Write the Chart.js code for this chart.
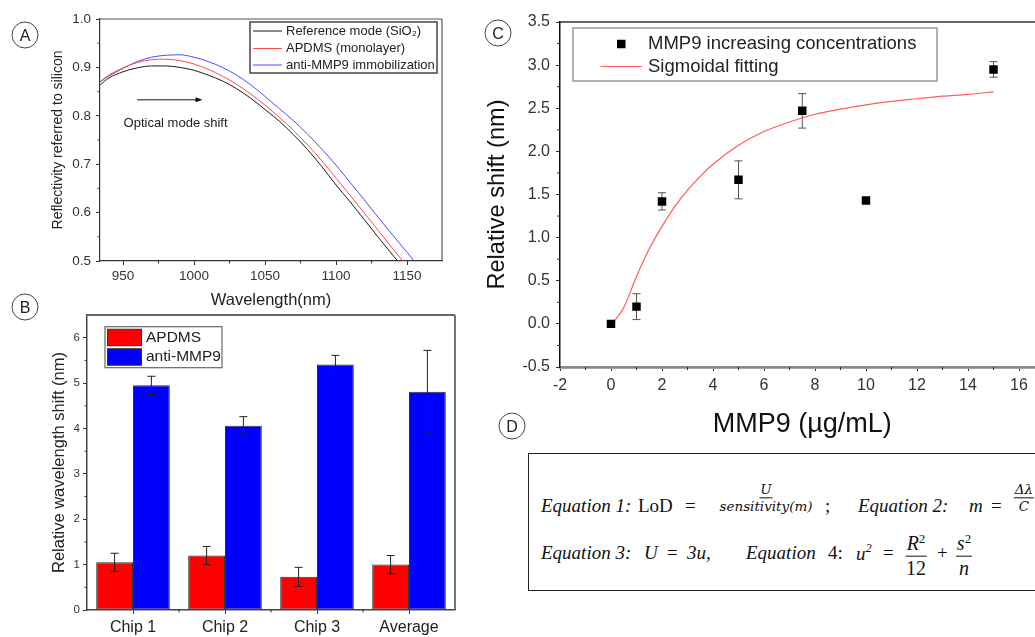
<!DOCTYPE html>
<html>
<head>
<meta charset="utf-8">
<script src="https://cdn.jsdelivr.net/npm/chart.js@4.4.1/dist/chart.umd.min.js"></script>
<style>
  html, body { margin: 0; padding: 0; background: #fff; }
  body { width: 1035px; height: 637px; overflow: hidden; position: relative; font-family: "Liberation Sans", Arial, sans-serif; color: #222; }
  canvas { position: absolute; }
  .tag { position: absolute; width: 25px; height: 25px; border: 1.2px solid #444; border-radius: 50%;
         transform: translate(-50%, -50%); display: flex; align-items: center; justify-content: center;
         font-size: 16px; color: #222; }
  #eqBox { position: absolute; left: 528px; top: 453px; width: 560px; height: 136px; border: 1.5px solid #222; }
  #eqBox .t { position: absolute; transform: translateY(-50%); white-space: nowrap;
              font-family: "Liberation Serif", serif; font-size: 19px; color: #111; }
  #eqBox .it { font-style: italic; }
  #eqBox .frac { position: absolute; transform: translate(-50%, -50%); display: flex; flex-direction: column;
                 align-items: center; font-family: "Liberation Serif", serif; color: #111; line-height: 1.05; }
  #eqBox .frac .num { border-bottom: 1px solid #111; padding: 0 1px 1px; text-align: center; }
  #eqBox .frac .den { padding-top: 1px; text-align: center; }
  #eqBox .sm { font-family: "DejaVu Serif", serif; font-style: italic; font-size: 13.5px; }
  #eqBox .lg { font-size: 20px; }
  #eqBox sup { font-size: 0.65em; }
</style>
</head>
<body>
<canvas id="chartA" width="450" height="315" style="left:0;top:0"></canvas>
<canvas id="chartB" width="470" height="337" style="left:0;top:300px"></canvas>
<canvas id="chartC" width="620" height="445" style="left:470px;top:0"></canvas>

<div class="tag" style="left:25px;top:35px">A</div>
<div class="tag" style="left:25px;top:307px">B</div>
<div class="tag" style="left:498px;top:33px">C</div>
<div class="tag" style="left:512px;top:426px">D</div>

<div id="eqBox">
  <span class="t it" style="left:12px;top:52px">Equation 1:</span>
  <span class="t" style="left:109px;top:52px">LoD</span>
  <span class="t" style="left:156px;top:52px">=</span>
  <span class="frac sm" style="left:237px;top:44px"><span class="num">U</span><span class="den">sensitivity(m)</span></span>
  <span class="t" style="left:296px;top:52px">;</span>
  <span class="t it" style="left:329px;top:52px">Equation 2:</span>
  <span class="t it" style="left:440px;top:52px">m</span>
  <span class="t" style="left:462px;top:52px">=</span>
  <span class="frac sm" style="left:495px;top:44px"><span class="num">Δλ</span><span class="den">C</span></span>

  <span class="t it" style="left:12px;top:99px">Equation 3:</span>
  <span class="t it" style="left:115px;top:99px">U</span>
  <span class="t" style="left:138px;top:99px">=</span>
  <span class="t it" style="left:158px;top:99px">3u,</span>
  <span class="t it" style="left:217px;top:99px">Equation</span>
  <span class="t" style="left:299px;top:99px">4:</span>
  <span class="t it" style="left:327px;top:99px">u<sup>2</sup></span>
  <span class="t" style="left:354px;top:99px">=</span>
  <span class="frac lg" style="left:387px;top:101px"><span class="num"><i>R</i><sup>2</sup></span><span class="den">12</span></span>
  <span class="t" style="left:408px;top:99px">+</span>
  <span class="frac lg" style="left:435px;top:101px"><span class="num"><i>s</i><sup>2</sup></span><span class="den"><i>n</i></span></span>
</div>

<script>
// A: reflectivity spectra
const wavelength = [934, 940, 950, 960, 970, 980, 990, 1000, 1010, 1020, 1030, 1040, 1050, 1060, 1070, 1080, 1090, 1100, 1110, 1120, 1130, 1140, 1150, 1160];
const refMode  = [0.864, 0.878, 0.891, 0.899, 0.903, 0.903, 0.900, 0.894, 0.884, 0.872, 0.856, 0.836, 0.813, 0.789, 0.761, 0.730, 0.695, 0.657, 0.622, 0.585, 0.548, 0.512, 0.477, 0.440];
const apdmsMono = [0.871, 0.884, 0.899, 0.910, 0.916, 0.917, 0.914, 0.907, 0.896, 0.882, 0.865, 0.845, 0.822, 0.797, 0.770, 0.740, 0.707, 0.671, 0.635, 0.599, 0.562, 0.525, 0.489, 0.452];
const antiImmob = [0.870, 0.882, 0.898, 0.912, 0.921, 0.925, 0.926, 0.921, 0.912, 0.900, 0.884, 0.864, 0.840, 0.815, 0.790, 0.762, 0.731, 0.698, 0.662, 0.626, 0.589, 0.553, 0.518, 0.482];

// B: wavelength shift per chip
const chips = ['Chip 1', 'Chip 2', 'Chip 3', 'Average'];
const apdmsShift = [1.05, 1.20, 0.73, 1.00];
const apdmsErr   = [0.20, 0.20, 0.21, 0.20];
const mmp9Shift  = [4.95, 4.06, 5.41, 4.81];
const mmp9Err    = [0.20, 0.20, 0.20, 0.91];

// C: response vs MMP9 concentration
const concentration = [0, 1, 2, 5, 7.5, 10, 15];
const relShift      = [0.00, 0.20, 1.42, 1.67, 2.47, 1.43, 2.95];
const relShiftErr   = [0.00, 0.15, 0.10, 0.22, 0.20, 0.03, 0.09];
const fitConc  = [0.05, 0.5, 1, 1.5, 2, 2.5, 3, 3.5, 4, 5, 6, 7, 8, 9, 10, 11, 12, 13, 14, 15];
const fitShift = [0.00, 0.19, 0.55, 0.87, 1.13, 1.36, 1.55, 1.71, 1.85, 2.07, 2.23, 2.34, 2.43, 2.49, 2.54, 2.58, 2.61, 2.64, 2.66, 2.69];

const FONT = '"Liberation Sans", Arial, sans-serif';
Chart.defaults.font.family = FONT;
Chart.defaults.color = '#222';

const pairs = (xs, ys) => xs.map((x, i) => ({ x: x, y: ys[i] }));

// small ticks between the labelled ones
const minorTicks = {
  id: 'minorTicks',
  afterDraw(chart, args, o) {
    const ctx = chart.ctx;
    ctx.save();
    ctx.strokeStyle = o.color || '#333';
    ctx.lineWidth = 1;
    ['x', 'y'].forEach(id => {
      const m = o[id];
      const s = chart.scales[id];
      if (!m || !s) return;
      for (let v = m.from; v <= s.max + 1e-9; v += m.step) {
        if (v < s.min - 1e-9) continue;
        const p = s.getPixelForValue(v);
        ctx.beginPath();
        if (id === 'x') {
          if (p <= s.left + 1 || p >= s.right - 1) continue;
          ctx.moveTo(p, s.top); ctx.lineTo(p, s.top + o.len);
        } else {
          if (p <= s.top + 1 || p >= s.bottom - 1) continue;
          ctx.moveTo(s.right, p); ctx.lineTo(s.right - o.len, p);
        }
        ctx.stroke();
      }
    });
    ctx.restore();
  }
};

// top / right border of the plot box
const frame = {
  id: 'frame',
  afterDraw(chart, args, o) {
    const { left, right, top, bottom } = chart.chartArea;
    const ctx = chart.ctx;
    ctx.save();
    ctx.strokeStyle = o.color;
    ctx.lineWidth = o.width;
    ctx.beginPath();
    if (o.sides.includes('top')) { ctx.moveTo(left, top); ctx.lineTo(right, top); }
    if (o.sides.includes('right')) { ctx.moveTo(right, top); ctx.lineTo(right, bottom); }
    ctx.stroke();
    ctx.restore();
  }
};

// vertical error bars from each dataset's "errors" array
function drawErrors(chart, o) {
  const ctx = chart.ctx;
  const ys = chart.scales.y;
  ctx.save();
  ctx.strokeStyle = o.color;
  ctx.lineWidth = 1;
  chart.data.datasets.forEach((ds, di) => {
    if (!ds.errors) return;
    chart.getDatasetMeta(di).data.forEach((el, i) => {
      const err = ds.errors[i];
      if (!err) return;
      const raw = ds.data[i];
      const v = typeof raw === 'object' ? raw.y : raw;
      const t = ys.getPixelForValue(v + err);
      const b = ys.getPixelForValue(v - err);
      ctx.beginPath();
      ctx.moveTo(el.x, t); ctx.lineTo(el.x, b);
      ctx.moveTo(el.x - o.cap, t); ctx.lineTo(el.x + o.cap, t);
      ctx.moveTo(el.x - o.cap, b); ctx.lineTo(el.x + o.cap, b);
      ctx.stroke();
    });
  });
  ctx.restore();
}
const errorBars = {
  id: 'errorBars',
  beforeDatasetsDraw(chart, args, o) { if (o.under) drawErrors(chart, o); },
  afterDatasetsDraw(chart, args, o) { if (!o.under) drawErrors(chart, o); }
};

// legend drawn in a framed box inside the plot
const boxLegend = {
  id: 'boxLegend',
  afterDraw(chart, args, o) {
    const ctx = chart.ctx;
    const [bx, by, bw, bh] = o.box;
    ctx.save();
    ctx.strokeStyle = o.borderColor;
    ctx.lineWidth = o.borderWidth;
    ctx.strokeRect(bx, by, bw, bh);
    ctx.font = o.fontSize + 'px ' + FONT;
    ctx.textBaseline = 'middle';
    const [x0, x1] = o.sample;
    chart.data.datasets.filter(d => d.label).forEach((ds, i) => {
      const y = o.rows[i];
      if (chart.config.type === 'bar') {
        ctx.fillStyle = ds.backgroundColor;
        ctx.fillRect(x0, y - o.swatch / 2, x1 - x0, o.swatch);
        ctx.strokeStyle = ds.borderColor;
        ctx.lineWidth = 1;
        ctx.strokeRect(x0, y - o.swatch / 2, x1 - x0, o.swatch);
      } else if (ds.showLine === false) {
        const s = o.marker;
        ctx.fillStyle = ds.backgroundColor;
        ctx.fillRect((x0 + x1) / 2 - s / 2, y - s / 2, s, s);
      } else {
        ctx.strokeStyle = ds.borderColor;
        ctx.lineWidth = ds.borderWidth || 1;
        ctx.beginPath(); ctx.moveTo(x0, y); ctx.lineTo(x1, y); ctx.stroke();
      }
      ctx.fillStyle = '#222';
      ctx.fillText(ds.label, o.textX, y);
    });
    ctx.restore();
  }
};

// arrow with caption placed in data coordinates
const arrowNote = {
  id: 'arrowNote',
  afterDraw(chart, args, o) {
    const ctx = chart.ctx;
    const xs = chart.scales.x, ys = chart.scales.y;
    const ax0 = xs.getPixelForValue(o.from[0]), ax1 = xs.getPixelForValue(o.to[0]);
    const ay = ys.getPixelForValue(o.from[1]);
    ctx.save();
    ctx.strokeStyle = '#111';
    ctx.fillStyle = '#111';
    ctx.lineWidth = 1;
    ctx.beginPath(); ctx.moveTo(ax0, ay); ctx.lineTo(ax1 - 5, ay); ctx.stroke();
    ctx.beginPath(); ctx.moveTo(ax1, ay); ctx.lineTo(ax1 - 7, ay - 2.5); ctx.lineTo(ax1 - 7, ay + 2.5); ctx.closePath(); ctx.fill();
    ctx.font = o.fontSize + 'px ' + FONT;
    ctx.fillStyle = '#222';
    ctx.textAlign = 'center';
    ctx.textBaseline = 'middle';
    ctx.fillText(o.text, xs.getPixelForValue(o.at[0]), ys.getPixelForValue(o.at[1]));
    ctx.restore();
  }
};

const axisGrid = (len) => ({ drawOnChartArea: false, drawTicks: true, tickLength: len, color: '#333' });

// ---- A ----
new Chart(document.getElementById('chartA'), {
  type: 'line',
  data: {
    datasets: [
      { label: 'Reference mode (SiO\u2082)', data: pairs(wavelength, refMode), borderColor: '#1a1a1a', borderWidth: 1, pointRadius: 0, cubicInterpolationMode: 'monotone' },
      { label: 'APDMS (monolayer)', data: pairs(wavelength, apdmsMono), borderColor: '#ff4a4a', borderWidth: 1, pointRadius: 0, cubicInterpolationMode: 'monotone' },
      { label: 'anti-MMP9 immobilization', data: pairs(wavelength, antiImmob), borderColor: '#4a4aff', borderWidth: 1, pointRadius: 0, cubicInterpolationMode: 'monotone' }
    ]
  },
  options: {
    responsive: false, animation: false,
    layout: { padding: { left: 0, top: 19, right: 8, bottom: 0 } },
    plugins: {
      legend: { display: false }, tooltip: { enabled: false },
      minorTicks: { x: { from: 925, step: 50 }, y: { from: 0.55, step: 0.1 }, len: 2.5, color: '#333' },
      frame: { sides: ['top', 'right'], color: '#555', width: 1.2 },
      boxLegend: { box: [250, 22, 187, 51], rows: [31, 48.5, 65], sample: [253, 282], textX: 286, fontSize: 13, borderColor: '#444', borderWidth: 1.5 },
      arrowNote: { from: [960, 0.833], to: [1006, 0.833], at: [987, 0.785], text: 'Optical mode shift', fontSize: 13 }
    },
    scales: {
      x: {
        type: 'linear', min: 933.8, max: 1174.6,
        grid: axisGrid(4), border: { color: '#333', width: 1.2 },
        ticks: { stepSize: 50, includeBounds: false, font: { size: 13.5 }, color: '#333', padding: 3, maxRotation: 0, callback: v => String(v) },
        title: { display: true, text: 'Wavelength(nm)', font: { size: 16.5 }, color: '#222', padding: { top: 0, bottom: 5 } },
        afterFit: s => { s.height = 54; }
      },
      y: {
        min: 0.5, max: 1.0,
        grid: axisGrid(4), border: { color: '#333', width: 1.2 },
        ticks: { stepSize: 0.1, includeBounds: false, font: { size: 13.5 }, color: '#333', padding: 5, callback: v => v.toFixed(1) },
        title: { display: true, text: 'Reflectivity referred to silicon', font: { size: 14 }, color: '#222', padding: { top: 49.6, bottom: 0 } },
        afterFit: s => { s.width = 100; }
      }
    }
  },
  plugins: [minorTicks, frame, boxLegend, arrowNote]
});

// ---- B ----
new Chart(document.getElementById('chartB'), {
  type: 'bar',
  data: {
    labels: chips,
    datasets: [
      { label: 'APDMS', data: apdmsShift, errors: apdmsErr, backgroundColor: '#ff0000', borderColor: '#333', borderWidth: 1, borderSkipped: false },
      { label: 'anti-MMP9', data: mmp9Shift, errors: mmp9Err, backgroundColor: '#0000ff', borderColor: '#333', borderWidth: 1, borderSkipped: false }
    ]
  },
  options: {
    responsive: false, animation: false,
    datasets: { bar: { categoryPercentage: 0.8, barPercentage: 1.0 } },
    layout: { padding: { left: 0, top: 15, right: 15, bottom: 0 } },
    plugins: {
      legend: { display: false }, tooltip: { enabled: false },
      minorTicks: { x: { from: 0.5, step: 1 }, y: { from: 0.5, step: 1 }, len: 2.5, color: '#333' },
      frame: { sides: ['top', 'right'], color: '#666', width: 1.8 },
      errorBars: { color: '#222', cap: 4 },
      boxLegend: { box: [105, 26.7, 117, 41], rows: [37.5, 57], sample: [107.5, 141.5], swatch: 16.5, textX: 146, fontSize: 15.5, borderColor: '#666', borderWidth: 1.2 }
    },
    scales: {
      x: {
        grid: Object.assign(axisGrid(4), { offset: false }), border: { color: '#444', width: 1.5 },
        ticks: { font: { size: 16 }, color: '#222', padding: 4 },
        afterFit: s => { s.height = 27; }
      },
      y: {
        min: 0, max: 6.5,
        grid: axisGrid(4), border: { color: '#444', width: 1.5 },
        ticks: { stepSize: 1, includeBounds: false, font: { size: 11.5 }, color: '#333', padding: 3 },
        title: { display: true, text: 'Relative wavelength shift (nm)', font: { size: 16.5 }, color: '#222', padding: { top: 50, bottom: 0 } },
        afterFit: s => { s.width = 87; }
      }
    }
  },
  plugins: [minorTicks, frame, errorBars, boxLegend]
});

// ---- C ----
new Chart(document.getElementById('chartC'), {
  type: 'scatter',
  data: {
    datasets: [
      { label: 'MMP9 increasing concentrations', data: pairs(concentration, relShift), errors: relShiftErr, showLine: false,
        pointStyle: 'rect', pointRadius: 6, backgroundColor: '#000', borderColor: '#000', borderWidth: 0 },
      { label: 'Sigmoidal fitting', data: pairs(fitConc, fitShift), showLine: true, pointRadius: 0,
        borderColor: '#ff5c5c', borderWidth: 1.2, cubicInterpolationMode: 'monotone' }
    ]
  },
  options: {
    responsive: false, animation: false,
    layout: { padding: { left: 0, top: 22, right: 45.5, bottom: 0 } },
    plugins: {
      legend: { display: false }, tooltip: { enabled: false },
      minorTicks: { x: { from: -1, step: 2 }, y: { from: -0.25, step: 0.5 }, len: 3, color: '#333' },
      frame: { sides: ['top'], color: '#333', width: 1.5 },
      errorBars: { color: '#555', cap: 4, under: true },
      boxLegend: { box: [103, 28, 364, 53], rows: [44, 66.5], sample: [130.5, 172], marker: 8.5, textX: 178, fontSize: 18.5, borderColor: '#888', borderWidth: 1.3 }
    },
    scales: {
      x: {
        type: 'linear', min: -2, max: 17,
        grid: axisGrid(4), border: { color: '#888', width: 2.7 },
        ticks: { stepSize: 2, includeBounds: false, font: { size: 16 }, color: '#333', padding: 5, maxRotation: 0 },
        title: { display: true, text: 'MMP9 (\u00b5g/mL)', font: { size: 27 }, color: '#111', padding: { top: 0, bottom: 4 } },
        afterFit: s => { s.height = 78; }
      },
      y: {
        min: -0.5, max: 3.5,
        grid: axisGrid(4), border: { color: '#111', width: 1.5 },
        ticks: { stepSize: 0.5, font: { size: 16 }, color: '#333', padding: 6, callback: v => v.toFixed(1) },
        title: { display: true, text: 'Relative shift (nm)', font: { size: 23.6 }, color: '#111', padding: { top: 13.8, bottom: 0 } },
        afterFit: s => { s.width = 90; }
      }
    }
  },
  plugins: [minorTicks, frame, errorBars, boxLegend]
});
</script>
</body>
</html>
